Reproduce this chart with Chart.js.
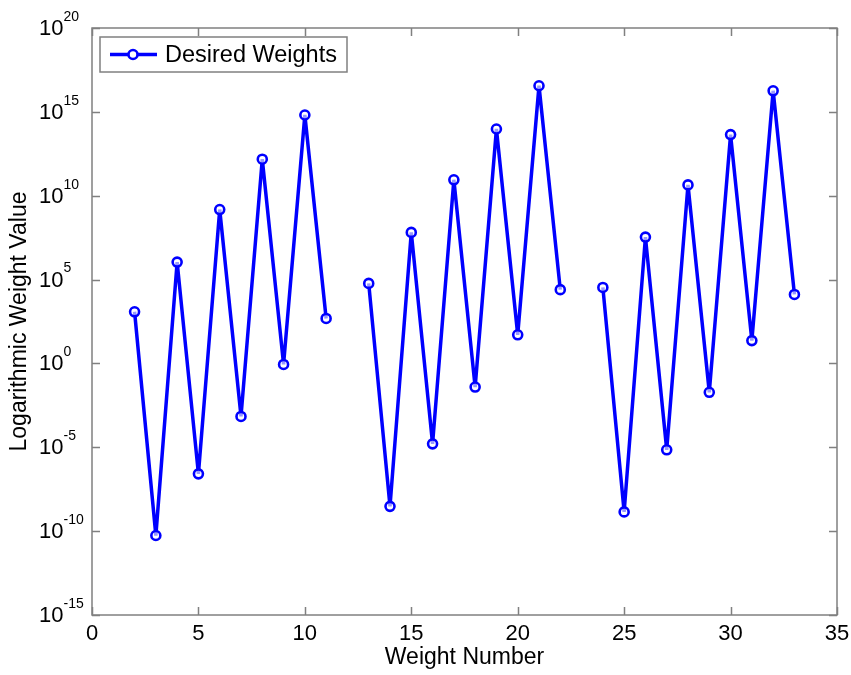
<!DOCTYPE html>
<html>
<head>
<meta charset="utf-8">
<title>Desired Weights</title>
<script src="https://cdn.jsdelivr.net/npm/chart.js@4.4.1/dist/chart.umd.min.js"></script>
<style>
  html, body { margin: 0; padding: 0; background: #fff; }
  #wrap { width: 851px; height: 675px; }
</style>
</head>
<body>
<div id="wrap"><canvas id="weightsChart" width="851" height="675"></canvas></div>
<script>
// Data (null = break in the line)
const weightNumbers = [2, 3, 4, 5, 6, 7, 8, 9, 10, 11, 12,
                       13, 14, 15, 16, 17, 18, 19, 20, 21, 22, 23,
                       24, 25, 26, 27, 28, 29, 30, 31, 32, 33];
const weightValues = [1.2e3, 5.5e-11, 1.1e6, 2.6e-7, 1.5e9, 6.9e-4, 1.5e12, 0.87, 6.5e14, 4.8e2, null,
                      5.9e4, 3.0e-9, 6.5e7, 1.6e-5, 8.9e10, 3.9e-2, 9.5e13, 51, 3.6e16, 2.5e4, null,
                      3.4e4, 1.4e-9, 3.4e7, 7.1e-6, 4.4e10, 1.9e-2, 4.4e13, 23, 1.8e16, 1.3e4];
const xTicks = [0, 5, 10, 15, 20, 25, 30, 35];
const yTickValues = [1e-15, 1e-10, 1e-5, 1e0, 1e5, 1e10, 1e15, 1e20];
const yTickExponents = ['-15', '-10', '-5', '0', '5', '10', '15', '20'];

const FONT = '"Liberation Sans", Arial, sans-serif';
const BLUE = '#0000ff';
const FRAME = '#808080';

// MATLAB-like box, inward ticks, 10^n labels and the legend
const matlabAxes = {
    id: 'matlabAxes',
    afterDraw(chart) {
        const { ctx, chartArea: a, scales: { x, y } } = chart;
        const tick = 8;
        ctx.save();

        ctx.strokeStyle = FRAME;
        ctx.lineWidth = 1.5;
        ctx.strokeRect(a.left, a.top, a.right - a.left, a.bottom - a.top);

        ctx.beginPath();
        xTicks.forEach(v => {
            const px = Math.round(x.getPixelForValue(v)) + 0.5;
            ctx.moveTo(px, a.bottom); ctx.lineTo(px, a.bottom - tick);
            ctx.moveTo(px, a.top); ctx.lineTo(px, a.top + tick);
        });
        yTickValues.forEach(v => {
            const py = Math.round(y.getPixelForValue(v)) + 0.5;
            ctx.moveTo(a.left, py); ctx.lineTo(a.left + tick, py);
            ctx.moveTo(a.right, py); ctx.lineTo(a.right - tick, py);
        });
        ctx.stroke();

        // y tick labels as 10^n
        ctx.fillStyle = '#000';
        ctx.textAlign = 'left';
        ctx.textBaseline = 'middle';
        yTickValues.forEach((v, i) => {
            const py = y.getPixelForValue(v);
            ctx.font = '22px ' + FONT;
            ctx.fillText('10', 39, py + 1);
            const w = ctx.measureText('10').width;
            ctx.font = '14px ' + FONT;
            ctx.fillText(yTickExponents[i], 39 + w, py - 11);
        });

        // legend
        const ds = chart.data.datasets[0];
        const lx = 100, ly = 37, lw = 247, lh = 35;
        ctx.fillStyle = '#fff';
        ctx.fillRect(lx, ly, lw, lh);
        ctx.strokeStyle = FRAME;
        ctx.lineWidth = 1.5;
        ctx.strokeRect(lx, ly, lw, lh);
        const cy = ly + lh / 2;
        ctx.strokeStyle = ds.borderColor;
        ctx.lineWidth = ds.borderWidth;
        ctx.beginPath();
        ctx.moveTo(110, cy); ctx.lineTo(157, cy);
        ctx.stroke();
        ctx.lineWidth = ds.pointBorderWidth;
        ctx.fillStyle = '#fff';
        ctx.beginPath();
        ctx.arc(133, cy, ds.pointRadius, 0, Math.PI * 2);
        ctx.fill();
        ctx.stroke();
        ctx.fillStyle = '#000';
        ctx.font = '23.5px ' + FONT;
        ctx.textBaseline = 'middle';
        ctx.fillText(ds.label, 165, cy + 1);

        ctx.restore();
    }
};

new Chart(document.getElementById('weightsChart'), {
    type: 'line',
    data: {
        labels: weightNumbers,
        datasets: [{
            label: 'Desired Weights',
            data: weightNumbers.map((n, i) => ({ x: n, y: weightValues[i] })),
            borderColor: BLUE,
            borderWidth: 3.5,
            pointRadius: 4.5,
            pointBorderWidth: 2.6,
            pointBorderColor: BLUE,
            pointBackgroundColor: 'rgba(255,255,255,0.6)',
            spanGaps: false,
            tension: 0,
            fill: false
        }]
    },
    options: {
        responsive: false,
        animation: false,
        devicePixelRatio: 1,
        layout: { padding: { top: 28, right: 14, left: 0, bottom: 0 } },
        plugins: {
            legend: { display: false },
            tooltip: { enabled: false }
        },
        scales: {
            x: {
                type: 'linear',
                min: 0,
                max: 35,
                grid: { display: false, drawTicks: false },
                border: { display: false },
                afterBuildTicks: scale => { scale.ticks = xTicks.map(v => ({ value: v })); },
                afterFit: scale => {
                    scale.height = 60;
                    scale.paddingLeft = 0;
                    scale.paddingRight = 0;
                },
                ticks: {
                    color: '#000',
                    padding: 6,
                    maxRotation: 0,
                    autoSkip: false,
                    font: { family: FONT, size: 22 }
                },
                title: {
                    display: true,
                    text: 'Weight Number',
                    color: '#000',
                    padding: { top: 4, bottom: 4 },
                    font: { family: FONT, size: 23 }
                }
            },
            y: {
                type: 'logarithmic',
                min: 1e-15,
                max: 1e20,
                grid: { display: false, drawTicks: false },
                border: { display: false },
                afterBuildTicks: scale => { scale.ticks = yTickValues.map(v => ({ value: v })); },
                afterFit: scale => { scale.width = 92; },
                ticks: { display: false },
                title: {
                    display: true,
                    text: 'Logarithmic Weight Value',
                    color: '#000',
                    padding: { top: 6, bottom: 0 },
                    font: { family: FONT, size: 23 }
                }
            }
        }
    },
    plugins: [matlabAxes]
});
</script>
</body>
</html>
